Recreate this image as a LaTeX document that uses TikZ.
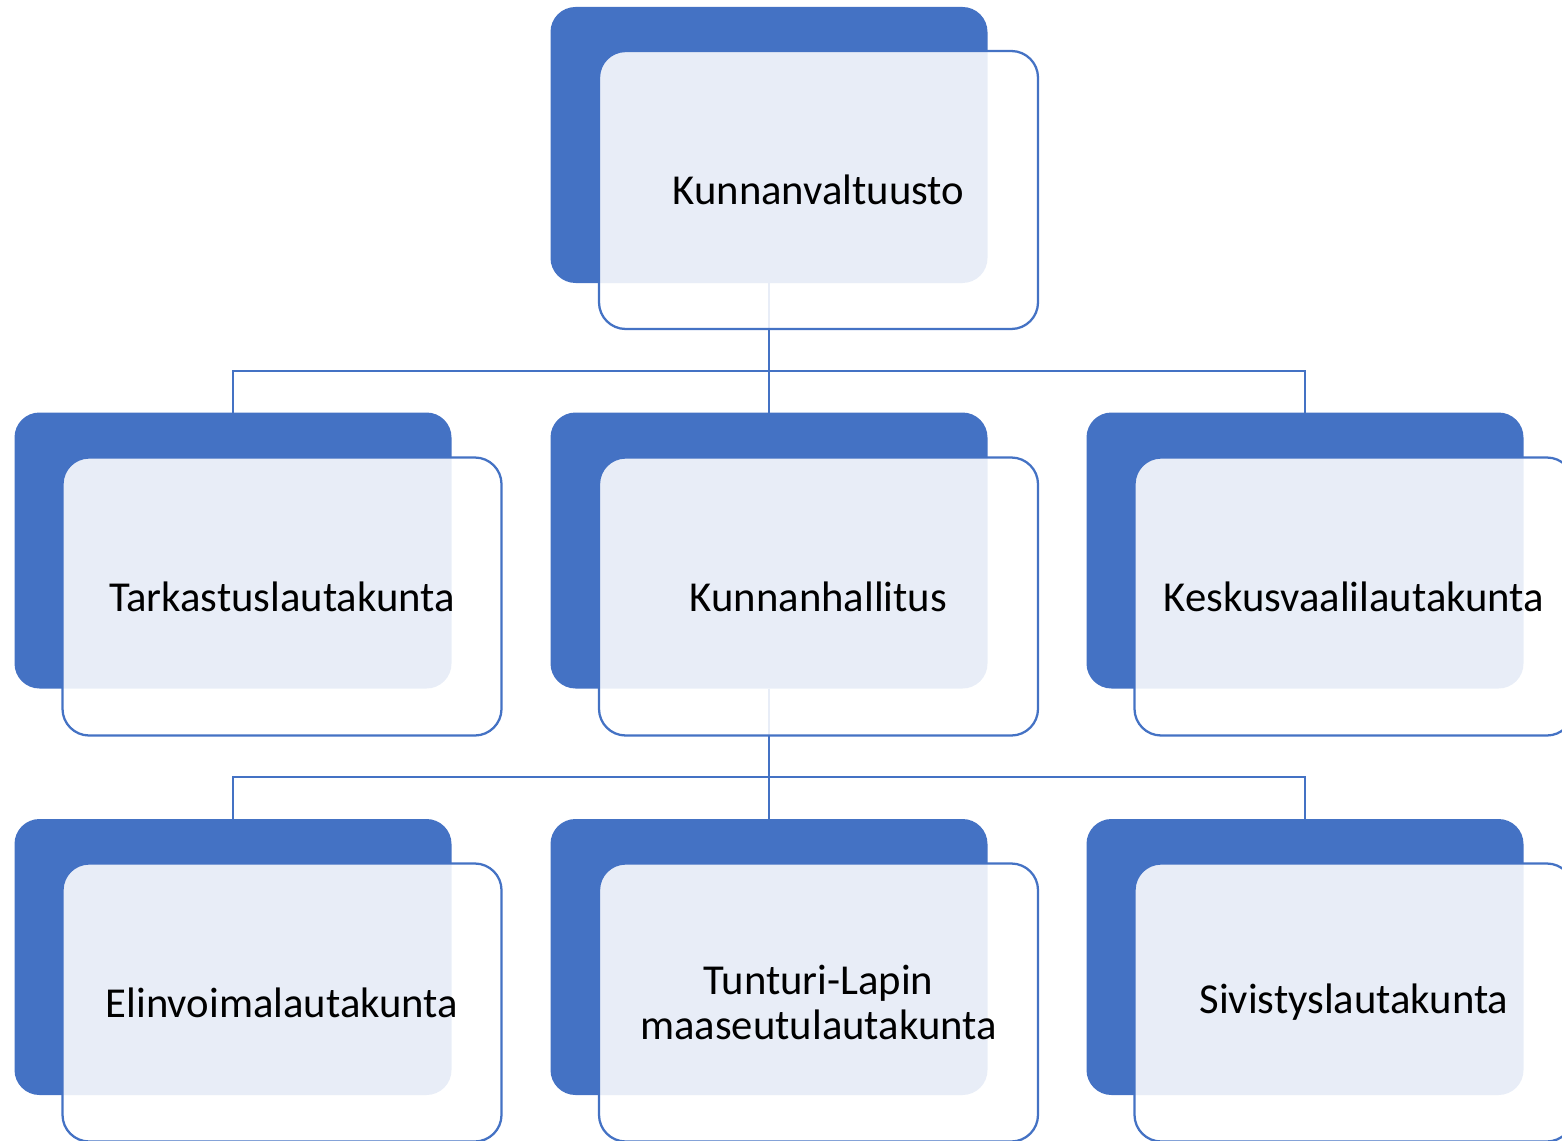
\documentclass[tikz,border=0pt]{standalone}
\usepackage{fontspec}
\setmainfont{Carlito}
\definecolor{accent}{HTML}{4472C4}
\begin{document}
\begin{tikzpicture}[x=0.75pt,y=-0.75pt,
  back/.style={fill=accent, rounded corners=18.75pt, minimum width=327.75pt, minimum height=207pt, inner sep=0pt, outer sep=0pt},
  front/.style={fill=white, fill opacity=0.88, text opacity=1, draw=accent, line width=1.7pt, rounded corners=20pt, minimum width=329.25pt, minimum height=208.5pt, inner sep=0pt, outer sep=0pt, align=center, font=\fontsize{32}{34}\selectfont},
  link/.style={draw=accent, line width=1.7pt}]
\useasboundingbox (0,0) rectangle (1562,1141);
\clip (0,0) rectangle (1562,1141);
% back boxes
\node[back] (kvb) at (769,145) {};
\node[back] (tlb) at (233,550.5) {};
\node[back] (khb) at (769,550.5) {};
\node[back] (ksb) at (1305,550.5) {};
\node[back] (elb) at (233,957) {};
\node[back] (tub) at (769,957) {};
\node[back] (svb) at (1305,957) {};
% connectors
\coordinate (bar1) at (769,371);
\coordinate (bar2) at (769,777);
\draw[link] (kvb.south) -- (bar1);
\draw[link] (tlb.north) |- (bar1);
\draw[link] (ksb.north) |- (bar1);
\draw[link] (khb.north) -- (bar1);
\draw[link] (khb.south) -- (bar2);
\draw[link] (elb.north) |- (bar2);
\draw[link] (svb.north) |- (bar2);
\draw[link] (tub.north) -- (bar2);
% front boxes
\node[front] (kv) at (818.5,190) {Kunnanvaltuusto};
\node[front] (tl) at (282,596.5) {Tarkastuslautakunta};
\node[front] (kh) at (818.5,596.5) {Kunnanhallitus};
\node[front] (ks) at (1354,596.5) {Keskusvaalilautakunta};
\node[front] (el) at (282,1002.5) {Elinvoimalautakunta};
\node[front] (tu) at (818.5,1002.5) {Tunturi-Lapin\\maaseutulautakunta};
\node[front] (sv) at (1354,1002.5) {Sivistyslautakunta};
\end{tikzpicture}
\end{document}
